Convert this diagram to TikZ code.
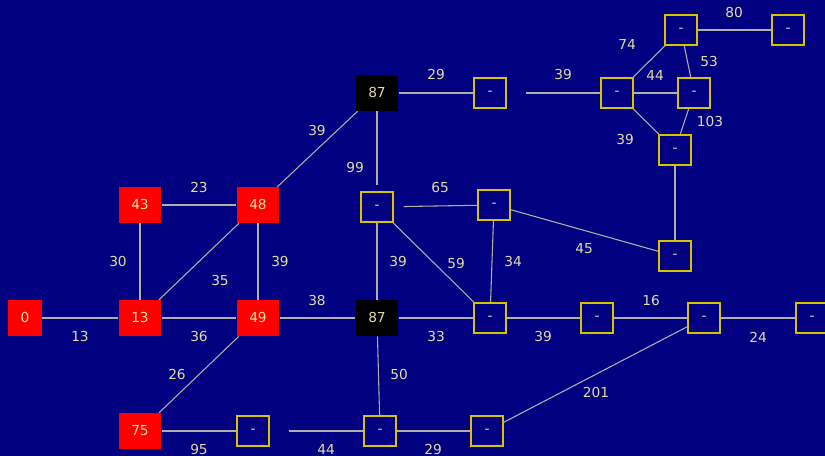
\documentclass[tikz,border=0pt]{standalone}
\usepackage{fontspec}
\setmainfont{DejaVu Sans}
\usetikzlibrary{backgrounds}
\definecolor{navy}{RGB}{0,0,128}
\definecolor{wire}{RGB}{178,175,170}
\definecolor{frame}{RGB}{215,195,0}
\definecolor{cream}{RGB}{228,218,165}
\definecolor{rtext}{RGB}{255,225,150}
\begin{document}
\begin{tikzpicture}[x=0.75pt,y=-0.75pt,font=\fontsize{10.3}{12}\selectfont,
	done/.style={fill=red,text=rtext,inner xsep=9.5pt,minimum height=27pt},
	hot/.style={fill=black,text=cream,inner xsep=9.5pt,minimum height=27pt},
	open/.style={draw=frame,line width=1pt,fill=navy,text=cream,minimum width=24pt,minimum height=22.5pt,inner sep=0pt},
	edge/.style={draw=wire,line width=0.8pt},
	wt/.style={text=cream,inner sep=1pt}]
	\useasboundingbox (0,0) rectangle (825,456);
	% settled vertices
	\node[done] (n0) at (25,318) {0};
	\node[done] (n13) at (140,318) {13};
	\node[done] (n43) at (140,205) {43};
	\node[done] (n48) at (258,205) {48};
	\node[done] (n49) at (258,318) {49};
	\node[done] (n75) at (140,431) {75};
	\node[hot] (t87) at (377,93) {87};
	\node[hot] (m87) at (377,318) {87};
	% unreached vertices
	\foreach \n/\x/\y in {u1/490/93,u2/377/207,u3/494/205,u4/675/256,u5/490/318,u6/597/318,u7/704/318,u8/812/318,
		u9/253/431,u10/380/431,u11/487/431,ua/681/30,ub/788/30,uc/617/93,ue/694/93,uf/675/150}{
		\node[open] (\n) at (\x,\y) {-};
	}
	\begin{pgfonlayer}{background}
	\fill[navy] (0,0) rectangle (825,456);
	\foreach \a/\b/\w/\lx/\ly in {n0/n13/13/80/337,n13/n43/30/118/262,n43/n48/23/199/188,n13/n48/35/220/281,
		n48/n49/39/280/262,n13/n49/36/199/337,n49/m87/38/317/300,n49/n75/26/177/375,n48/t87/39/317/131,
		t87/u1/29/436/75,m87/u2/39/398/262,u2/u5/59/456/264,u3/u5/34/513/262,u3/u4/45/584/249,
		m87/u5/33/436/337,u5/u6/39/543/337,u6/u7/16/651/300,u7/u8/24/758/337,u7/u11/201/596/392,
		m87/u10/50/399/375,n75/u9/95/199/449,u10/u11/29/433/449,uc/ua/74/627/44,uc/ue/44/655/75,
		ua/ue/53/709/62,ua/ub/80/734/13,ue/uf/103/710/122,uc/uf/39/625/140}{
		\draw[edge] (\a) -- (\b);
		\node[wt] (w-\a-\b) at (\lx,\ly) {\w};
	}
	\draw[edge] (uf) -- (u4);
	\draw[edge,shorten >=4.5pt] (t87) -- (u2);
	\node[wt] (w-t87-u2) at (355,168) {99};
	\draw[edge,shorten <=7.5pt] (u2) -- (u3);
	\node[wt] (w-u2-u3) at (440,188) {65};
	\draw[edge,shorten <=14.25pt] (u1) -- (uc);
	\node[wt] (w-u1-uc) at (563,75) {39};
	\draw[edge,shorten <=14.25pt] (u9) -- (u10);
	\node[wt] (w-u9-u10) at (326,449) {44};
	\end{pgfonlayer}
\end{tikzpicture}
\end{document}
